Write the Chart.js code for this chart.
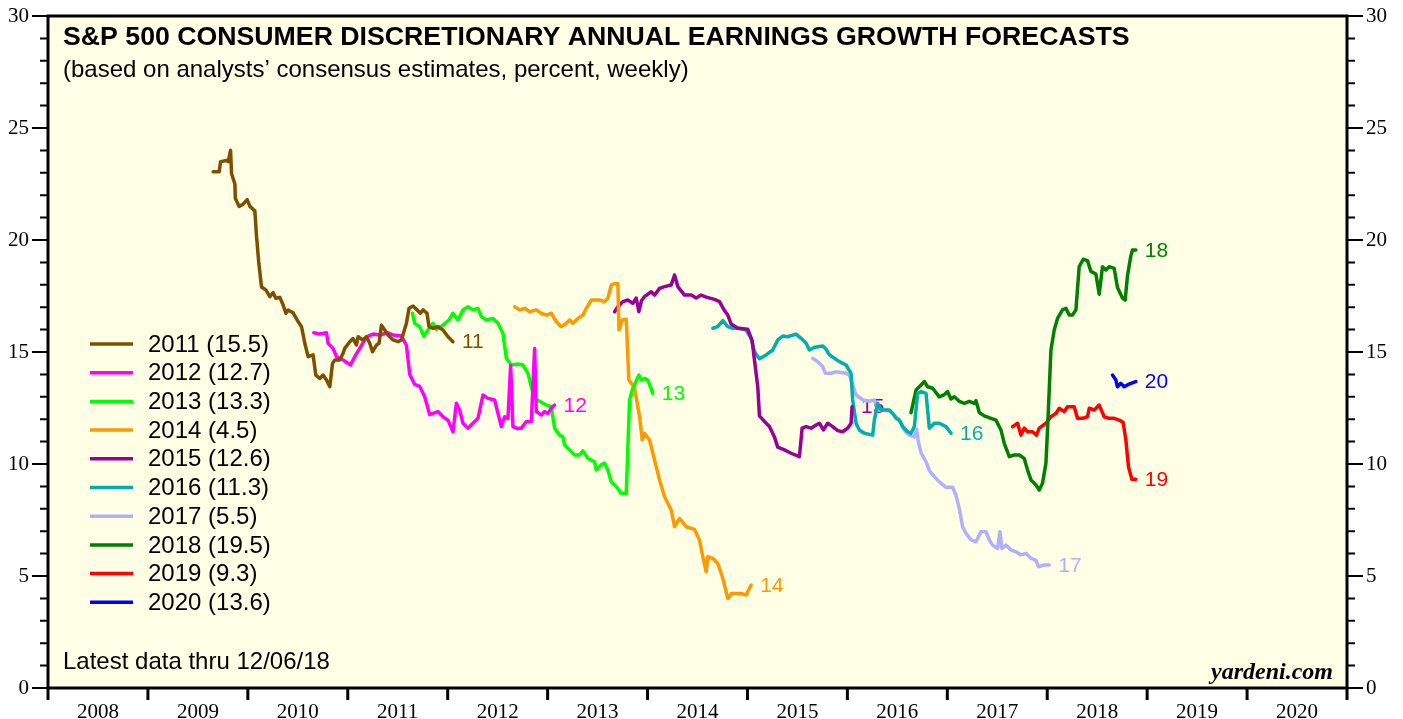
<!DOCTYPE html>
<html><head><meta charset="utf-8">
<script src="https://cdn.jsdelivr.net/npm/chart.js@4.4.0/dist/chart.umd.min.js"></script>
<style>html,body{margin:0;padding:0;background:#fff;}canvas{display:block;}</style>
</head><body>
<canvas id="c" width="1403" height="719"></canvas>
<script>
const years = [2008,2009,2010,2011,2012,2013,2014,2015,2016,2017,2018,2019,2020];
const yTicks = [0,5,10,15,20,25,30];
const seriesNames = ['2011','2012','2013','2014','2015','2016','2017','2018','2019','2020'];
const latestValues = ['15.5','12.7','13.3','4.5','12.6','11.3','5.5','19.5','9.3','13.6'];
const endLabels = ['11','12','13','14','15','16','17','18','19','20'];
const titleText = 'S&P 500 CONSUMER DISCRETIONARY ANNUAL EARNINGS GROWTH FORECASTS';
const subtitleText = '(based on analysts\u2019 consensus estimates, percent, weekly)';
const noteText = 'Latest data thru 12/06/18';
const sourceText = 'yardeni.com';

const s2011 = [[2009.653,23.05],[2009.713,23.05],[2009.727,23.5],[2009.787,23.55],[2009.803,23.5],[2009.827,24.0],[2009.837,22.97],[2009.87,22.5],[2009.875,21.85],[2009.913,21.5],[2009.953,21.6],[2009.993,21.8],[2010.02,21.5],[2010.07,21.3],[2010.087,20.15],[2010.11,18.96],[2010.137,17.9],[2010.18,17.77],[2010.22,17.47],[2010.253,17.65],[2010.28,17.4],[2010.32,17.44],[2010.353,17.1],[2010.38,16.73],[2010.403,16.87],[2010.453,16.75],[2010.493,16.43],[2010.537,16.13],[2010.57,15.39],[2010.603,14.79],[2010.653,14.87],[2010.68,13.97],[2010.72,13.82],[2010.753,13.97],[2010.787,13.75],[2010.82,13.45],[2010.847,14.49],[2010.87,14.64],[2010.92,14.64],[2010.953,14.94],[2010.97,15.16],[2011.02,15.46],[2011.053,15.6],[2011.087,15.31],[2011.103,15.68],[2011.147,15.54],[2011.187,15.68],[2011.22,15.39],[2011.247,15.01],[2011.287,15.31],[2011.313,15.39],[2011.337,16.2],[2011.37,15.98],[2011.403,15.76],[2011.453,15.54],[2011.503,15.46],[2011.537,15.54],[2011.587,16.28],[2011.613,16.95],[2011.653,17.05],[2011.693,16.88],[2011.727,16.73],[2011.753,16.88],[2011.793,16.73],[2011.813,16.13],[2011.853,16.06],[2011.903,16.13],[2011.953,15.98],[2012.003,15.68],[2012.053,15.46]];
const s2012 = [[2010.66,15.86],[2010.72,15.8],[2010.787,15.86],[2010.803,15.39],[2010.853,15.16],[2010.887,14.79],[2010.953,14.64],[2011.027,14.42],[2011.07,14.79],[2011.12,15.16],[2011.187,15.68],[2011.253,15.8],[2011.32,15.76],[2011.403,15.86],[2011.453,15.76],[2011.537,15.71],[2011.587,15.3],[2011.62,14.0],[2011.67,13.55],[2011.72,13.46],[2011.77,13.0],[2011.82,12.2],[2011.853,12.26],[2011.903,12.34],[2011.953,12.11],[2012.003,11.96],[2012.053,11.44],[2012.087,12.71],[2012.12,12.41],[2012.153,11.82],[2012.203,11.6],[2012.253,11.82],[2012.303,12.04],[2012.353,13.08],[2012.403,12.93],[2012.47,12.86],[2012.503,12.26],[2012.537,11.67],[2012.57,12.11],[2012.603,12.04],[2012.63,14.4],[2012.653,11.67],[2012.687,11.6],[2012.737,11.6],[2012.787,11.9],[2012.837,11.9],[2012.87,15.16],[2012.887,12.34],[2012.937,12.19],[2012.97,12.34],[2013.003,12.26],[2013.037,12.49],[2013.07,12.63]];
const s2013 = [[2011.647,16.73],[2011.67,16.28],[2011.72,16.13],[2011.76,15.71],[2011.803,15.98],[2011.853,16.28],[2011.887,16.01],[2011.953,16.2],[2012.013,16.43],[2012.053,16.73],[2012.103,16.43],[2012.153,16.88],[2012.203,17.02],[2012.253,16.88],[2012.303,16.95],[2012.337,16.58],[2012.387,16.43],[2012.453,16.5],[2012.503,16.28],[2012.553,15.83],[2012.587,14.72],[2012.637,14.42],[2012.703,14.46],[2012.753,14.42],[2012.803,14.05],[2012.837,13.45],[2012.87,12.93],[2012.92,12.8],[2012.987,12.63],[2013.037,12.56],[2013.07,11.6],[2013.12,11.29],[2013.153,11.21],[2013.17,10.85],[2013.22,10.63],[2013.27,10.4],[2013.32,10.4],[2013.353,10.59],[2013.403,10.25],[2013.47,10.1],[2013.487,9.73],[2013.537,9.96],[2013.57,10.04],[2013.603,9.73],[2013.637,9.21],[2013.687,8.99],[2013.737,8.69],[2013.787,8.69],[2013.82,12.86],[2013.853,13.38],[2013.913,13.97],[2013.937,13.75],[2013.97,13.82],[2014.003,13.75],[2014.053,13.15]];
const s2014 = [[2012.67,17.02],[2012.72,16.88],[2012.77,16.95],[2012.82,16.8],[2012.887,16.88],[2012.937,16.73],[2012.987,16.65],[2013.037,16.73],[2013.087,16.35],[2013.137,16.13],[2013.187,16.28],[2013.22,16.43],[2013.253,16.28],[2013.303,16.5],[2013.353,16.65],[2013.387,16.95],[2013.437,17.32],[2013.52,17.32],[2013.57,17.25],[2013.603,17.4],[2013.637,17.99],[2013.67,18.06],[2013.703,18.06],[2013.715,15.98],[2013.747,16.43],[2013.787,16.46],[2013.813,13.75],[2013.87,13.4],[2013.92,12.11],[2013.947,11.07],[2013.97,11.37],[2014.02,11.07],[2014.07,10.18],[2014.12,9.29],[2014.17,8.54],[2014.237,7.95],[2014.27,7.2],[2014.32,7.57],[2014.387,7.2],[2014.47,7.08],[2014.52,6.61],[2014.553,5.86],[2014.587,5.19],[2014.603,5.86],[2014.653,5.79],[2014.703,5.56],[2014.753,4.9],[2014.803,4.0],[2014.837,4.22],[2014.887,4.22],[2014.937,4.22],[2014.987,4.15],[2015.037,4.6]];
const s2015 = [[2013.67,16.8],[2013.703,17.02],[2013.753,17.25],[2013.803,17.32],[2013.853,17.17],[2013.887,17.41],[2013.913,16.8],[2013.94,17.3],[2013.97,17.47],[2014.037,17.69],[2014.07,17.54],[2014.12,17.84],[2014.17,17.92],[2014.237,17.99],[2014.27,18.44],[2014.303,17.92],[2014.37,17.54],[2014.437,17.54],[2014.487,17.41],[2014.537,17.54],[2014.587,17.45],[2014.67,17.35],[2014.72,17.25],[2014.77,16.85],[2014.803,16.65],[2014.837,16.25],[2014.903,16.06],[2015.003,16.02],[2015.047,15.5],[2015.07,14.64],[2015.103,13.45],[2015.12,12.15],[2015.17,11.9],[2015.22,11.67],[2015.27,11.21],[2015.303,10.75],[2015.37,10.63],[2015.437,10.48],[2015.52,10.33],[2015.547,11.6],[2015.587,11.67],[2015.637,11.6],[2015.687,11.74],[2015.72,11.82],[2015.76,11.52],[2015.803,11.82],[2015.853,11.67],[2015.903,11.49],[2015.953,11.44],[2016.003,11.6],[2016.037,11.82],[2016.047,12.56]];
const s2016 = [[2014.653,16.06],[2014.703,16.13],[2014.753,16.4],[2014.803,16.13],[2014.853,16.06],[2014.92,16.06],[2014.987,15.98],[2015.037,15.61],[2015.07,15.01],[2015.12,14.7],[2015.187,14.87],[2015.253,15.09],[2015.303,15.54],[2015.353,15.71],[2015.403,15.68],[2015.487,15.8],[2015.537,15.61],[2015.587,15.39],[2015.62,15.09],[2015.67,15.21],[2015.753,15.27],[2015.787,15.12],[2015.82,14.87],[2015.87,14.72],[2015.92,14.57],[2015.987,14.42],[2016.037,14.05],[2016.053,12.86],[2016.087,11.82],[2016.12,11.52],[2016.17,11.37],[2016.253,11.29],[2016.27,11.96],[2016.303,12.71],[2016.337,12.41],[2016.42,12.41],[2016.453,12.26],[2016.487,12.04],[2016.52,11.96],[2016.553,11.67],[2016.603,11.44],[2016.637,11.37],[2016.67,11.67],[2016.703,13.15],[2016.737,13.23],[2016.787,13.15],[2016.82,11.6],[2016.87,11.82],[2016.92,11.82],[2016.987,11.67],[2017.037,11.37]];
const s2017 = [[2015.653,14.72],[2015.703,14.57],[2015.753,14.35],[2015.78,14.05],[2015.837,14.05],[2015.887,14.12],[2015.987,14.05],[2016.02,13.97],[2016.053,13.53],[2016.087,13.08],[2016.153,12.86],[2016.22,12.8],[2016.27,12.86],[2016.303,12.41],[2016.387,12.41],[2016.437,12.34],[2016.487,12.1],[2016.537,11.85],[2016.57,11.5],[2016.62,11.29],[2016.67,11.21],[2016.693,11.55],[2016.71,11.0],[2016.737,10.5],[2016.787,10.1],[2016.82,9.7],[2016.87,9.44],[2016.92,9.2],[2016.987,8.96],[2017.053,8.96],[2017.087,8.6],[2017.12,8.0],[2017.153,7.2],[2017.187,6.9],[2017.237,6.61],[2017.287,6.53],[2017.337,6.98],[2017.387,6.98],[2017.42,6.61],[2017.453,6.38],[2017.503,6.23],[2017.527,6.98],[2017.547,6.23],[2017.587,6.38],[2017.637,6.16],[2017.687,6.08],[2017.737,5.94],[2017.787,6.01],[2017.837,5.79],[2017.887,5.71],[2017.913,5.41],[2017.97,5.49],[2018.02,5.49]];
const s2018 = [[2016.637,12.29],[2016.687,13.3],[2016.737,13.53],[2016.77,13.68],[2016.803,13.45],[2016.853,13.38],[2016.92,13.0],[2016.97,13.1],[2017.003,13.23],[2017.037,12.9],[2017.07,13.0],[2017.12,12.8],[2017.17,12.71],[2017.22,12.8],[2017.27,12.71],[2017.287,12.83],[2017.32,12.3],[2017.37,12.15],[2017.437,12.04],[2017.487,11.96],[2017.537,11.52],[2017.57,10.92],[2017.62,10.33],[2017.67,10.4],[2017.72,10.4],[2017.77,10.25],[2017.803,9.73],[2017.837,9.29],[2017.887,9.06],[2017.92,8.84],[2017.953,9.14],[2017.987,10.04],[2018.003,11.52],[2018.02,13.3],[2018.037,15.09],[2018.07,15.98],[2018.103,16.5],[2018.153,16.88],[2018.187,16.95],[2018.22,16.65],[2018.253,16.65],[2018.287,16.88],[2018.32,18.81],[2018.36,19.14],[2018.403,19.08],[2018.437,18.6],[2018.487,18.48],[2018.52,17.58],[2018.553,18.81],[2018.587,18.66],[2018.62,18.81],[2018.67,18.73],[2018.703,17.88],[2018.753,17.41],[2018.78,17.32],[2018.803,18.4],[2018.837,19.29],[2018.853,19.55],[2018.887,19.55]];
const s2019 = [[2017.653,11.67],[2017.703,11.82],[2017.737,11.29],[2017.77,11.6],[2017.803,11.44],[2017.853,11.44],[2017.893,11.29],[2017.92,11.6],[2017.987,11.82],[2018.037,12.11],[2018.087,12.26],[2018.12,12.49],[2018.17,12.34],[2018.203,12.56],[2018.27,12.56],[2018.303,12.04],[2018.353,12.04],[2018.403,12.11],[2018.42,12.49],[2018.47,12.41],[2018.52,12.63],[2018.57,12.11],[2018.62,12.04],[2018.67,12.04],[2018.72,11.96],[2018.76,11.85],[2018.787,11.07],[2018.813,9.88],[2018.847,9.32],[2018.887,9.32]];
const s2020 = [[2018.653,13.97],[2018.687,13.75],[2018.703,13.45],[2018.737,13.6],[2018.77,13.45],[2018.803,13.53],[2018.837,13.6],[2018.887,13.68]];

const allSeries = [s2011,s2012,s2013,s2014,s2015,s2016,s2017,s2018,s2019,s2020];
const colors = ['#7F4F00','#FF00FF','#00FF00','#FF9900','#990099','#00AEAE','#B0B0FF','#007F00','#FF0000','#0000FF'];

const SANS = '"Liberation Sans", Arial, sans-serif';
const SERIF = '"Liberation Serif", "Times New Roman", serif';

const decor = {
  id: 'decor',
  beforeDraw(chart) {
    const {ctx, chartArea: a} = chart;
    ctx.save();
    ctx.fillStyle = '#FFFFE6';
    ctx.fillRect(a.left, a.top, a.right - a.left, a.bottom - a.top);
    ctx.restore();
  },
  beforeDatasetsDraw(chart) {
    const {ctx} = chart;
    const xs = chart.scales.x, ys = chart.scales.y;
    ctx.save();
    ctx.font = '21px ' + SANS;
    ctx.textBaseline = 'middle';
    ctx.textAlign = 'left';
    allSeries.forEach((s, i) => {
      const last = s[s.length - 1];
      ctx.fillStyle = colors[i];
      ctx.fillText(endLabels[i], xs.getPixelForValue(last[0]) + 9, ys.getPixelForValue(last[1]) + 1);
    });
    ctx.restore();
  },
  afterDraw(chart) {
    const {ctx, chartArea: a} = chart;
    const xs = chart.scales.x, ys = chart.scales.y;
    ctx.save();
    ctx.strokeStyle = '#000';
    ctx.lineWidth = 3;
    ctx.strokeRect(a.left, a.top, a.right - a.left, a.bottom - a.top);
    ctx.lineWidth = 2;
    for (let v = 0; v <= 30; v++) {
      const y = ys.getPixelForValue(v);
      const major = v % 5 === 0;
      ctx.beginPath();
      ctx.moveTo(a.left - (major ? 16 : 8), y); ctx.lineTo(a.left, y);
      ctx.moveTo(a.right, y); ctx.lineTo(a.right + (major ? 16 : 8), y);
      ctx.stroke();
    }
    ctx.lineWidth = 3;
    years.concat([years[years.length - 1] + 1]).forEach(yr => {
      const x = xs.getPixelForValue(yr);
      ctx.beginPath(); ctx.moveTo(x, a.bottom); ctx.lineTo(x, a.bottom + 12); ctx.stroke();
    });
    ctx.fillStyle = '#000';
    ctx.textAlign = 'left';
    ctx.textBaseline = 'alphabetic';
    ctx.font = 'bold 26.7px ' + SANS;
    ctx.fillText(titleText, 63, 45);
    ctx.font = '24px ' + SANS;
    ctx.fillText(subtitleText, 63, 77);
    ctx.fillText(noteText, 63, 669);
    ctx.font = 'bold italic 24px ' + SERIF;
    ctx.textAlign = 'right';
    ctx.fillText(sourceText, 1333, 679);
    ctx.textAlign = 'left';
    ctx.textBaseline = 'middle';
    ctx.font = '24px ' + SANS;
    seriesNames.forEach((n, i) => {
      const y = 344 + i * 28.7;
      ctx.strokeStyle = colors[i];
      ctx.lineWidth = 3.5;
      ctx.beginPath(); ctx.moveTo(90, y); ctx.lineTo(133, y); ctx.stroke();
      ctx.fillStyle = '#000';
      ctx.fillText(n + ' (' + latestValues[i] + ')', 148, y + 1);
    });
    ctx.restore();
  }
};

const yAxis = (pos, w) => ({
  type: 'linear', min: 0, max: 30, position: pos,
  afterBuildTicks: s => { s.ticks = yTicks.map(v => ({value: v})); },
  afterFit: s => { s.width = w; s.paddingTop = 0; s.paddingBottom = 0; },
  grid: {display: false, drawTicks: false},
  border: {display: false},
  ticks: {padding: 19, color: '#000', font: {family: SERIF, size: 21}}
});

new Chart(document.getElementById('c'), {
  type: 'line',
  data: {
    datasets: allSeries.map((s, i) => ({
      label: seriesNames[i],
      data: s.map(p => ({x: p[0], y: p[1]})),
      borderColor: colors[i],
      borderWidth: 3.5,
      borderJoinStyle: 'round',
      borderCapStyle: 'round',
      pointRadius: 0,
      tension: 0,
      fill: false
    }))
  },
  options: {
    responsive: false,
    animation: false,
    layout: {padding: {top: 16, left: 0, right: 0, bottom: 0}},
    plugins: {legend: {display: false}, tooltip: {enabled: false}},
    scales: {
      x: {
        type: 'linear', min: 2008, max: 2021, position: 'bottom',
        afterBuildTicks: s => { s.ticks = years.map(y => ({value: y + 0.5})); },
        afterFit: s => { s.height = 31; s.paddingLeft = 0; s.paddingRight = 0; },
        grid: {display: false, drawTicks: false},
        border: {display: false},
        ticks: {autoSkip: false, maxRotation: 0, minRotation: 0, padding: 12, color: '#000',
                font: {family: SERIF, size: 21}, callback: v => String(Math.floor(v))}
      },
      y: yAxis('left', 48),
      y2: yAxis('right', 56)
    }
  },
  plugins: [decor]
});
</script>
</body></html>
